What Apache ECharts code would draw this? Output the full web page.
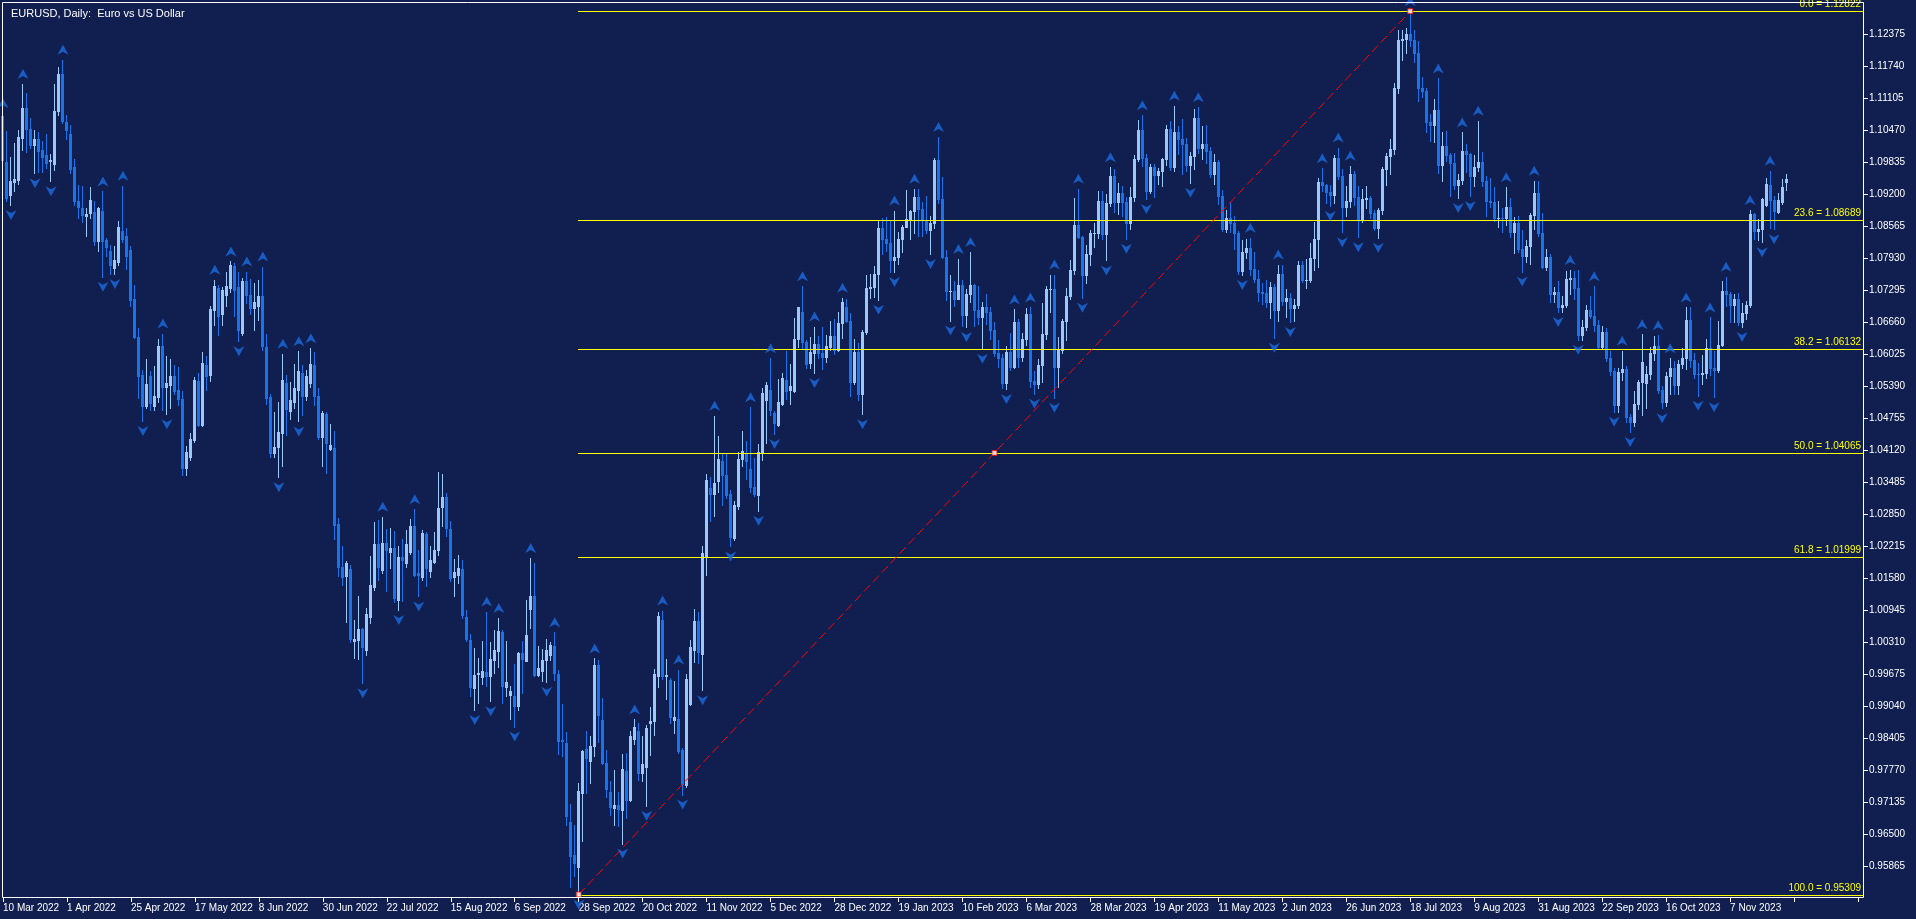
<!DOCTYPE html>
<html>
<head>
<meta charset="utf-8">
<title>EURUSD, Daily</title>
<script src="https://cdn.jsdelivr.net/npm/echarts@6/dist/echarts.min.js"></script>
<style>
  html, body { margin: 0; padding: 0; background: #101f50; }
  #chart { width: 1916px; height: 919px; }
</style>
</head>
<body>
<div id="chart"></div>
<script>
// EURUSD daily bars, first bar = 10 Mar 2022, last = 27 Nov 2023
const opens = [
  1.1074,1.0984,1.0918,1.0943,1.0948,1.1031,1.1091,1.1049,1.1017,1.1029,1.1007,1.0998,1.0985,1.0980,1.1085,1.1158,1.1062,1.1039,1.0973,1.0905,
  1.0893,1.0877,1.0882,1.0885,1.0826,1.0886,1.0829,1.0806,1.0774,1.0785,1.0846,1.0836,1.0809,1.0712,1.0637,1.0561,1.0499,1.0559,1.0499,1.0518,
  1.0619,1.0538,1.0541,1.0558,1.0532,1.0513,1.0376,1.0399,1.0432,1.0549,1.0461,1.0581,1.0561,1.0689,1.0733,1.0682,1.0720,1.0733,1.0778,1.0735,
  1.0644,1.0747,1.0720,1.0694,1.0697,1.0718,1.0616,1.0518,1.0407,1.0419,1.0445,1.0546,1.0489,1.0507,1.0532,1.0565,1.0519,1.0546,1.0581,1.0520,
  1.0439,1.0483,1.0414,1.0416,1.0266,1.0181,1.0162,1.0177,1.0034,1.0036,1.0058,1.0015,1.0082,1.0140,1.0226,1.0175,1.0228,1.0211,1.0218,1.0115,
  1.0201,1.0189,1.0211,1.0262,1.0168,1.0160,1.0246,1.0173,1.0191,1.0213,1.0300,1.0320,1.0255,1.0160,1.0165,1.0176,1.0082,1.0036,0.9940,0.9968,
  0.9963,0.9973,0.9965,0.9996,1.0013,1.0052,0.9943,0.9926,0.9925,0.9905,1.0010,0.9994,1.0097,1.0123,0.9967,0.9975,0.9995,1.0006,1.0023,0.9969,
  0.9838,0.9832,0.9674,0.9610,0.9585,0.9732,0.9819,0.9795,0.9825,0.9986,0.9876,0.9791,0.9735,0.9703,0.9708,0.9699,0.9775,0.9719,0.9839,0.9856,
  0.9771,0.9783,0.9871,0.9874,0.9964,1.0076,0.9964,0.9956,0.9876,0.9878,0.9817,0.9749,0.9908,1.0016,1.0074,1.0007,1.0201,1.0337,1.0326,1.0350,
  1.0391,1.0363,1.0326,1.0238,1.0301,1.0395,1.0406,1.0374,1.0338,1.0323,1.0406,1.0512,1.0531,1.0486,1.0462,1.0503,1.0552,1.0531,1.0529,1.0632,
  1.0685,1.0626,1.0585,1.0605,1.0622,1.0605,1.0597,1.0617,1.0638,1.0610,1.0664,1.0696,1.0668,1.0547,1.0607,1.0523,1.0646,1.0733,1.0735,1.0762,
  1.0852,1.0830,1.0822,1.0788,1.0794,1.0830,1.0855,1.0871,1.0886,1.0914,1.0890,1.0868,1.0848,1.0863,1.0988,1.0910,1.0795,1.0727,1.0727,1.0712,
  1.0739,1.0679,1.0722,1.0740,1.0690,1.0675,1.0696,1.0686,1.0651,1.0605,1.0595,1.0545,1.0607,1.0576,1.0667,1.0597,1.0633,1.0682,1.0549,1.0544,
  1.0580,1.0642,1.0731,1.0731,1.0577,1.0610,1.0668,1.0717,1.0770,1.0858,1.0834,1.0760,1.0800,1.0843,1.0843,1.0905,1.0840,1.0902,1.0955,1.0903,
  1.0921,1.0904,1.0862,1.0913,1.0990,1.1046,1.0991,1.0926,1.0973,1.0957,1.0965,1.0989,1.1049,1.0974,1.1043,1.1029,1.1018,1.0977,1.0996,1.1070,
  1.1012,1.1019,1.1006,1.0960,1.0983,1.0915,1.0850,1.0873,1.0862,1.0842,1.0767,1.0804,1.0813,1.0771,1.0751,1.0726,1.0723,1.0706,1.0736,1.0690,
  1.0762,1.0708,1.0713,1.0693,1.0699,1.0780,1.0750,1.0750,1.0792,1.0830,1.0944,1.0937,1.0924,1.0918,1.0991,1.0956,1.0894,1.0905,1.0960,1.0913,
  1.0868,1.0909,1.0912,1.0882,1.0853,1.0888,1.0969,1.0996,1.1010,1.1129,1.1225,1.1228,1.1238,1.1226,1.1200,1.1130,1.1125,1.1063,1.1056,1.1087,
  1.0977,1.1015,1.0998,1.0982,1.0938,1.0947,1.1006,1.1000,1.0956,1.0973,1.0983,1.0945,1.0906,1.0904,1.0873,1.0873,1.0872,1.0895,1.0845,1.0862,
  1.0810,1.0796,1.0817,1.0878,1.0922,1.0843,1.0775,1.0795,1.0721,1.0726,1.0696,1.0699,1.0751,1.0753,1.0733,1.0641,1.0657,1.0690,1.0678,1.0660,
  1.0617,1.0646,1.0595,1.0569,1.0501,1.0566,1.0573,1.0477,1.0467,1.0503,1.0548,1.0545,1.0563,1.0605,1.0619,1.0531,1.0507,1.0559,1.0575,1.0542,
  1.0582,1.0594,1.0670,1.0591,1.0563,1.0562,1.0564,1.0614,1.0575,1.0570,1.0620,1.0728,1.0721,1.0699,1.0712,1.0667,1.0684,1.0700,1.0880,1.0846,
  1.0851,1.0898,1.0938,1.0908,1.0885,1.0903,1.0943
];
const highs = [
  1.1080,1.1044,1.0994,1.1021,1.1047,1.1138,1.1120,1.1070,1.1047,1.1042,1.1025,1.1039,1.0999,1.1138,1.1171,1.1186,1.1077,1.1056,1.0990,1.0938,
  1.0935,1.0892,1.0933,1.0905,1.0895,1.0925,1.0832,1.0819,1.0816,1.0867,1.0936,1.0853,1.0816,1.0740,1.0654,1.0571,1.0593,1.0569,1.0579,1.0633,
  1.0643,1.0599,1.0593,1.0581,1.0576,1.0530,1.0420,1.0446,1.0557,1.0565,1.0606,1.0598,1.0698,1.0750,1.0740,1.0735,1.0765,1.0786,1.0783,1.0766,
  1.0753,1.0766,1.0752,1.0743,1.0750,1.0776,1.0643,1.0523,1.0487,1.0507,1.0603,1.0561,1.0548,1.0583,1.0608,1.0581,1.0571,1.0614,1.0606,1.0536,
  1.0490,1.0487,1.0464,1.0450,1.0277,1.0222,1.0193,1.0185,1.0076,1.0123,1.0059,1.0099,1.0202,1.0269,1.0274,1.0280,1.0255,1.0257,1.0252,1.0221,
  1.0236,1.0254,1.0275,1.0295,1.0213,1.0254,1.0249,1.0222,1.0249,1.0368,1.0365,1.0327,1.0271,1.0197,1.0205,1.0195,1.0096,1.0048,1.0019,0.9999,
  1.0033,1.0092,1.0031,1.0056,1.0079,1.0056,1.0034,0.9945,0.9988,1.0012,1.0033,1.0115,1.0198,1.0188,1.0024,1.0017,1.0037,1.0031,1.0051,0.9976,
  0.9909,0.9853,0.9711,0.9669,0.9752,0.9818,0.9856,0.9846,0.9999,0.9996,0.9920,0.9818,0.9755,0.9777,0.9734,0.9809,0.9811,0.9856,0.9878,0.9871,
  0.9846,0.9868,0.9902,0.9979,1.0091,1.0094,0.9998,0.9960,0.9955,0.9977,0.9821,0.9968,1.0036,1.0098,1.0091,1.0221,1.0364,1.0359,1.0480,1.0441,
  1.0404,1.0405,1.0333,1.0311,1.0408,1.0450,1.0430,1.0497,1.0397,1.0425,1.0535,1.0547,1.0594,1.0490,1.0553,1.0564,1.0609,1.0582,1.0674,1.0696,
  1.0737,1.0630,1.0637,1.0657,1.0638,1.0656,1.0640,1.0669,1.0671,1.0686,1.0714,1.0711,1.0683,1.0632,1.0624,1.0650,1.0760,1.0762,1.0777,1.0868,
  1.0873,1.0874,1.0868,1.0887,1.0844,1.0858,1.0927,1.0889,1.0930,1.0929,1.0903,1.0915,1.0876,1.0991,1.1033,1.0953,1.0808,1.0760,1.0747,1.0791,
  1.0750,1.0732,1.0805,1.0742,1.0737,1.0706,1.0721,1.0695,1.0667,1.0630,1.0603,1.0618,1.0645,1.0691,1.0671,1.0644,1.0694,1.0695,1.0568,1.0593,
  1.0703,1.0737,1.0759,1.0760,1.0637,1.0671,1.0733,1.0788,1.0912,1.0930,1.0837,1.0818,1.0849,1.0863,1.0925,1.0926,1.0919,1.0973,1.0970,1.0941,
  1.0936,1.0914,1.0934,1.0998,1.1066,1.1076,1.0999,1.0980,1.0980,1.0971,1.0992,1.1057,1.1064,1.1095,1.1055,1.1068,1.1030,1.1003,1.1089,1.1092,
  1.1054,1.1057,1.1014,1.1000,1.0988,1.0927,1.0888,1.0904,1.0877,1.0846,1.0829,1.0830,1.0833,1.0805,1.0769,1.0744,1.0749,1.0746,1.0741,1.0780,
  1.0779,1.0731,1.0724,1.0712,1.0787,1.0787,1.0790,1.0823,1.0865,1.0951,1.0971,1.0940,1.0937,1.0998,1.1012,1.0969,1.0936,1.0976,1.0965,1.0935,
  1.0929,1.0935,1.0915,1.0888,1.0893,1.0974,1.1001,1.1029,1.1140,1.1245,1.1245,1.1249,1.12822,1.1244,1.1223,1.1152,1.1130,1.1079,1.1109,1.1149,
  1.1043,1.1045,1.1002,1.1001,1.0960,1.1042,1.1019,1.1002,1.0998,1.1065,1.1004,1.0955,1.0951,1.0934,1.0906,1.0892,1.0933,1.0912,1.0875,1.0877,
  1.0849,1.0829,1.0882,1.0946,1.0945,1.0882,1.0810,1.0800,1.0735,1.0747,1.0718,1.0768,1.0769,1.0767,1.0769,1.0670,1.0699,1.0717,1.0737,1.0670,
  1.0659,1.0654,1.0609,1.0574,1.0575,1.0609,1.0579,1.0484,1.0530,1.0551,1.0642,1.0578,1.0617,1.0638,1.0640,1.0539,1.0567,1.0594,1.0589,1.0591,
  1.0615,1.0695,1.0695,1.0605,1.0585,1.0601,1.0633,1.0675,1.0608,1.0669,1.0748,1.0756,1.0725,1.0721,1.0724,1.0703,1.0708,1.0888,1.0882,1.0870,
  1.0912,1.0951,1.0966,1.0915,1.0922,1.0950,1.0960
];
const lows = [
  1.0985,1.0905,1.0898,1.0925,1.0940,1.1007,1.1003,1.1011,1.0961,1.0964,1.0964,1.0971,1.0945,1.0968,1.1077,1.1060,1.1029,1.0961,1.0898,1.0873,
  1.0865,1.0836,1.0873,1.0819,1.0807,1.0756,1.0796,1.0761,1.0761,1.0779,1.0824,1.0771,1.0697,1.0634,1.0515,1.0470,1.0495,1.0492,1.0492,1.0508,
  1.0492,1.0483,1.0495,1.0524,1.0502,1.0363,1.0363,1.0393,1.0428,1.0459,1.0459,1.0532,1.0550,1.0661,1.0641,1.0661,1.0697,1.0725,1.0678,1.0628,
  1.0641,1.0704,1.0682,1.0651,1.0670,1.0610,1.0504,1.0399,1.0398,1.0358,1.0381,1.0442,1.0474,1.0495,1.0469,1.0482,1.0512,1.0538,1.0502,1.0434,
  1.0381,1.0366,1.0413,1.0236,1.0162,1.0144,1.0072,1.0032,0.9999,0.9997,0.9950,1.0006,1.0070,1.0135,1.0155,1.0168,1.0132,1.0178,1.0110,1.0095,
  1.0112,1.0181,1.0206,1.0162,1.0122,1.0154,1.0142,1.0160,1.0188,1.0205,1.0261,1.0241,1.0152,1.0122,1.0148,1.0079,1.0033,0.9925,0.9897,0.9910,
  0.9949,0.9945,0.9914,0.9971,0.9983,0.9910,0.9925,0.9879,0.9864,0.9897,0.9930,0.9993,1.0060,0.9965,0.9965,0.9955,0.9953,0.9996,0.9957,0.9810,
  0.9806,0.9669,0.9546,0.9568,0.95309,0.9637,0.9733,0.9753,0.9805,0.9834,0.9789,0.9725,0.9688,0.9669,0.9667,0.9632,0.9682,0.9716,0.9830,0.9757,
  0.9755,0.9707,0.9807,0.9848,0.9943,0.9958,0.9919,0.9871,0.9852,0.9811,0.9729,0.9744,0.9906,0.9992,0.9990,0.9936,1.0164,1.0271,1.0281,1.0329,
  1.0303,1.0317,1.0221,1.0234,1.0296,1.0380,1.0354,1.0329,1.0322,1.0292,1.0393,1.0426,1.0482,1.0444,1.0460,1.0501,1.0514,1.0503,1.0527,1.0617,
  1.0613,1.0575,1.0575,1.0565,1.0594,1.0573,1.0586,1.0611,1.0603,1.0608,1.0634,1.0666,1.0519,1.0543,1.0512,1.0483,1.0642,1.0714,1.0716,1.0710,
  1.0800,1.0806,1.0766,1.0765,1.0781,1.0804,1.0854,1.0830,1.0842,1.0836,1.0836,1.0842,1.0801,1.0852,1.0902,1.0792,1.0709,1.0669,1.0697,1.0711,
  1.0659,1.0656,1.0705,1.0659,1.0662,1.0613,1.0662,1.0632,1.0599,1.0577,1.0536,1.0533,1.0570,1.0575,1.0577,1.0589,1.0621,1.0537,1.0524,1.0536,
  1.0548,1.0633,1.0685,1.0516,1.0537,1.0605,1.0631,1.0712,1.0762,1.0832,1.0714,1.0744,1.0780,1.0814,1.0832,1.0830,1.0788,1.0897,1.0885,1.0880,
  1.0877,1.0831,1.0850,1.0905,1.0985,1.0975,1.0910,1.0922,1.0913,1.0939,1.0936,1.0977,1.0967,1.0965,1.1000,1.0960,1.0965,1.0942,1.0969,1.1002,
  1.0990,1.0982,1.0953,1.0940,1.0900,1.0846,1.0845,1.0844,1.0810,1.0762,1.0759,1.0792,1.0760,1.0746,1.0708,1.0702,1.0695,1.0673,1.0635,1.0668,
  1.0700,1.0676,1.0666,1.0669,1.0694,1.0745,1.0733,1.0745,1.0770,1.0776,1.0925,1.0901,1.0896,1.0902,1.0949,1.0844,1.0877,1.0895,1.0898,1.0834,
  1.0864,1.0892,1.0872,1.0848,1.0833,1.0880,1.0938,1.0960,1.1000,1.1120,1.1186,1.1199,1.1213,1.1181,1.1104,1.1113,1.1043,1.1025,1.1023,1.0961,
  1.0945,1.0986,1.0915,1.0929,1.0912,1.0939,1.0963,1.0916,1.0936,1.0966,1.0935,1.0877,1.0894,1.0866,1.0854,1.0844,1.0859,1.0834,1.0802,1.0804,
  1.0766,1.0785,1.0781,1.0850,1.0837,1.0773,1.0769,1.0705,1.0705,1.0686,1.0686,1.0695,1.0721,1.0712,1.0631,1.0631,1.0650,1.0673,1.0649,1.0615,
  1.0615,1.0588,1.0560,1.0488,1.0488,1.0552,1.0468,1.0448,1.0460,1.0494,1.0482,1.0495,1.0553,1.0590,1.0526,1.0495,1.0500,1.0524,1.0524,1.0524,
  1.0575,1.0572,1.0576,1.0556,1.0520,1.0543,1.0555,1.0561,1.0517,1.0567,1.0618,1.0697,1.0666,1.0667,1.0660,1.0656,1.0672,1.0695,1.0830,1.0829,
  1.0824,1.0896,1.0852,1.0850,1.0882,1.0900,1.0927
];
const closes = [
  1.0988,1.0912,1.0945,1.0950,1.1032,1.1091,1.1049,1.1017,1.1029,1.1005,1.0994,1.0981,1.0987,1.1085,1.1158,1.1065,1.1047,1.0970,1.0905,1.0895,
  1.0879,1.0880,1.0908,1.0826,1.0893,1.0827,1.0814,1.0779,1.0789,1.0854,1.0831,1.0796,1.0710,1.0637,1.0558,1.0499,1.0543,1.0506,1.0520,1.0619,
  1.0538,1.0546,1.0559,1.0530,1.0513,1.0376,1.0409,1.0434,1.0551,1.0461,1.0585,1.0558,1.0692,1.0737,1.0677,1.0730,1.0737,1.0779,1.0730,1.0651,
  1.0747,1.0720,1.0694,1.0705,1.0717,1.0618,1.0516,1.0407,1.0419,1.0448,1.0552,1.0494,1.0512,1.0536,1.0569,1.0520,1.0558,1.0583,1.0520,1.0439,
  1.0485,1.0427,1.0423,1.0263,1.0181,1.0160,1.0188,1.0038,1.0038,1.0058,1.0021,1.0087,1.0145,1.0226,1.0181,1.0228,1.0214,1.0218,1.0118,1.0200,
  1.0195,1.0226,1.0262,1.0165,1.0165,1.0247,1.0178,1.0195,1.0214,1.0297,1.0320,1.0257,1.0158,1.0170,1.0178,1.0085,1.0037,0.9942,0.9967,0.9971,
  0.9974,0.9965,0.9998,1.0016,1.0054,0.9945,0.9953,0.9934,0.9905,1.0010,0.9998,1.0046,1.0123,0.9967,0.9980,0.9996,1.0015,1.0026,0.9970,0.9836,
  0.9835,0.9687,0.9608,0.9593,0.9736,0.9815,0.9801,0.9826,0.9986,0.9886,0.9791,0.9740,0.9704,0.9708,0.9701,0.9779,0.9719,0.9846,0.9863,0.9772,
  0.9789,0.9861,0.9875,0.9968,1.0083,0.9964,0.9967,0.9882,0.9882,0.9815,0.9751,0.9958,1.0021,1.0074,1.0012,1.0209,1.0353,1.0326,1.0347,1.0395,
  1.0363,1.0323,1.0240,1.0303,1.0395,1.0410,1.0391,1.0338,1.0326,1.0408,1.0525,1.0541,1.0492,1.0465,1.0508,1.0555,1.0529,1.0540,1.0633,1.0695,
  1.0627,1.0583,1.0606,1.0623,1.0605,1.0597,1.0618,1.0638,1.0610,1.0664,1.0705,1.0668,1.0547,1.0607,1.0523,1.0646,1.0733,1.0735,1.0762,1.0852,
  1.0830,1.0822,1.0788,1.0794,1.0830,1.0855,1.0871,1.0886,1.0914,1.0890,1.0868,1.0848,1.0863,1.0988,1.0910,1.0795,1.0727,1.0727,1.0712,1.0739,
  1.0679,1.0722,1.0740,1.0690,1.0675,1.0696,1.0686,1.0651,1.0605,1.0595,1.0545,1.0607,1.0576,1.0667,1.0597,1.0633,1.0682,1.0549,1.0544,1.0580,
  1.0642,1.0731,1.0731,1.0577,1.0610,1.0668,1.0717,1.0770,1.0858,1.0834,1.0760,1.0800,1.0843,1.0843,1.0905,1.0840,1.0902,1.0955,1.0903,1.0921,
  1.0904,1.0862,1.0913,1.0990,1.1046,1.0991,1.0926,1.0973,1.0957,1.0965,1.0989,1.1049,1.0974,1.1043,1.1029,1.1018,1.0977,1.0996,1.1070,1.1012,
  1.1019,1.1006,1.0960,1.0983,1.0915,1.0850,1.0873,1.0862,1.0842,1.0767,1.0804,1.0813,1.0771,1.0751,1.0726,1.0723,1.0706,1.0736,1.0690,1.0762,
  1.0708,1.0713,1.0693,1.0699,1.0780,1.0750,1.0750,1.0792,1.0830,1.0944,1.0937,1.0924,1.0918,1.0991,1.0956,1.0894,1.0905,1.0960,1.0913,1.0868,
  1.0909,1.0912,1.0882,1.0853,1.0888,1.0969,1.0996,1.1010,1.1129,1.1225,1.1228,1.1238,1.1226,1.1200,1.1130,1.1125,1.1063,1.1056,1.1087,1.0977,
  1.1015,1.0998,1.0982,1.0938,1.0947,1.1006,1.1000,1.0956,1.0973,1.0983,1.0945,1.0906,1.0904,1.0873,1.0873,1.0872,1.0895,1.0845,1.0862,1.0810,
  1.0796,1.0817,1.0878,1.0922,1.0843,1.0775,1.0795,1.0721,1.0726,1.0696,1.0699,1.0751,1.0753,1.0733,1.0641,1.0657,1.0690,1.0678,1.0660,1.0617,
  1.0646,1.0595,1.0569,1.0501,1.0566,1.0573,1.0477,1.0467,1.0503,1.0548,1.0587,1.0563,1.0605,1.0619,1.0531,1.0507,1.0559,1.0575,1.0542,1.0582,
  1.0594,1.0670,1.0591,1.0563,1.0562,1.0564,1.0614,1.0575,1.0570,1.0620,1.0728,1.0721,1.0699,1.0712,1.0667,1.0684,1.0700,1.0880,1.0846,1.0851,
  1.0910,1.0940,1.0908,1.0887,1.0907,1.0933,1.0950
];

const fractalUp = [0,5,15,25,30,40,53,57,61,65,70,74,77,95,103,121,124,132,138,148,158,165,169,178,187,192];
const fractalDown = [2,8,12,25,28,35,41,59,69,74,90,99,104,118,122,128,136,144,155,161,170,175,182,189,193];
const FRACTAL_READ_UNTIL = 199;

// fibonacci retracement
const fibLevels = [0.0, 23.6, 38.2, 50.0, 61.8, 100.0];
const fibPrices = [1.12822, 1.08689, 1.06132, 1.04065, 1.01999, 0.95309];
const fibFrom = 144;   // bar of the low
const fibTo = 352;     // bar of the high

const yTicks = [0.95865,0.96500,0.97135,0.97770,0.98405,0.99040,0.99675,1.00310,1.00945,1.01580,1.02215,1.02850,1.03485,
  1.04120,1.04755,1.05390,1.06025,1.06660,1.07295,1.07930,1.08565,1.09200,1.09835,1.10470,1.11105,1.11740,1.12375];
const xTickLabels = ['10 Mar 2022','1 Apr 2022','25 Apr 2022','17 May 2022','8 Jun 2022','30 Jun 2022','22 Jul 2022',
  '15 Aug 2022','6 Sep 2022','28 Sep 2022','20 Oct 2022','11 Nov 2022','5 Dec 2022','28 Dec 2022','19 Jan 2023',
  '10 Feb 2023','6 Mar 2023','28 Mar 2023','19 Apr 2023','11 May 2023','2 Jun 2023','26 Jun 2023','18 Jul 2023',
  '9 Aug 2023','31 Aug 2023','22 Sep 2023','16 Oct 2023','7 Nov 2023'];
const LABEL_STEP = 16;
const SLOTS = 466;

const BG = '#101f50';
const BULL = '#9cc8f8';
const BEAR = '#1a73e8';
const ARROW = '#1c6be0';
const FIB = '#ffff00';
const FONT = 'Liberation Sans';

const slots = [];
for (let i = 0; i < SLOTS; i++) slots.push(String(i));

// fractals past the read range come from the bars themselves (5-bar rule)
const upIdx = fractalUp.slice(), downIdx = fractalDown.slice();
for (let i = FRACTAL_READ_UNTIL + 1; i < highs.length - 2; i++) {
  const h = highs[i], l = lows[i];
  if (h > highs[i - 1] && h > highs[i - 2] && h >= highs[i + 1] && h >= highs[i + 2]) upIdx.push(i);
  if (l < lows[i - 1] && l < lows[i - 2] && l <= lows[i + 1] && l <= lows[i + 2]) downIdx.push(i);
}

const candleData = opens.map((o, i) => [i, o, closes[i], lows[i], highs[i]]);

function renderCandle(params, api) {
  const i = api.value(0);
  const o = api.value(1), c = api.value(2);
  const yO = api.coord([i, o])[1];
  const yC = api.coord([i, c])[1];
  const yL = Math.round(api.coord([i, api.value(3)])[1]);
  const yH = Math.round(api.coord([i, api.value(4)])[1]);
  const cx = Math.floor(api.coord([i, o])[0]);
  const col = c >= o ? BULL : BEAR;
  const top = Math.round(Math.min(yO, yC));
  const bot = Math.round(Math.max(yO, yC));
  return {
    type: 'group',
    children: [
      { type: 'rect', shape: { x: cx, y: yH, width: 1, height: yL - yH + 1 }, style: { fill: col } },
      { type: 'rect', shape: { x: cx - 1, y: top, width: 3, height: bot - top + 1 }, style: { fill: col } }
    ]
  };
}

function renderFib(params, api) {
  const p = api.value(1);
  const pt = api.coord([api.value(0), p]);
  const cs = params.coordSys;
  const x0 = Math.floor(pt[0]);
  const x1 = cs.x + cs.width - 1;
  const y = Math.round(pt[1]);
  const k = params.dataIndex;
  return {
    type: 'group',
    children: [
      { type: 'rect', shape: { x: x0, y: y, width: x1 - x0, height: 1 }, style: { fill: FIB } },
      {
        type: 'text', x: x1 - 2, y: y - 2,
        style: {
          text: fibLevels[k].toFixed(1) + ' = ' + p.toFixed(5),
          fill: FIB, align: 'right', verticalAlign: 'bottom',
          font: '10px "' + FONT + '"'
        }
      }
    ]
  };
}

const chart = echarts.init(document.getElementById('chart'));
chart.setOption({
  backgroundColor: BG,
  animation: false,
  textStyle: { fontFamily: FONT },
  title: {
    text: 'EURUSD, Daily:  Euro vs US Dollar',
    left: 6, top: 3,
    textStyle: { color: '#ffffff', fontSize: 11, fontWeight: 'normal', fontFamily: FONT }
  },
  grid: { left: 0, top: 2, width: 1864, height: 895 },
  xAxis: {
    type: 'category',
    data: slots,
    boundaryGap: true,
    axisLine: { show: false },
    axisTick: { show: true, interval: LABEL_STEP - 1, alignWithLabel: true, length: 5, lineStyle: { color: '#ffffff' } },
    axisLabel: {
      interval: LABEL_STEP - 1,
      align: 'left',
      margin: 6,
      color: '#ffffff',
      fontSize: 10,
      fontFamily: FONT,
      formatter: (v, idx) => xTickLabels[idx / LABEL_STEP] || ''
    },
    splitLine: { show: false }
  },
  yAxis: {
    type: 'value',
    position: 'right',
    min: 0.95260,
    max: 1.13005,
    axisLine: { show: false },
    axisTick: { show: true, customValues: yTicks, length: 4, lineStyle: { color: '#ffffff' } },
    axisLabel: {
      customValues: yTicks,
      margin: 5,
      color: '#ffffff',
      fontSize: 10,
      fontFamily: FONT,
      formatter: v => v.toFixed(5)
    },
    splitLine: { show: false }
  },
  graphic: [{
    type: 'rect',
    shape: { x: 2.5, y: 2.5, width: 1861, height: 895 },
    style: { fill: null, stroke: '#ffffff', lineWidth: 1 },
    silent: true,
    z: 100
  }],
  series: [
    {
      type: 'custom',
      data: candleData,
      encode: { x: 0, y: [1, 2, 3, 4] },
      renderItem: renderCandle,
      silent: true,
      z: 2
    },
    {
      type: 'custom',
      data: fibPrices.map(p => [fibFrom, p]),
      encode: { x: 0, y: 1 },
      renderItem: renderFib,
      silent: true,
      z: 3
    },
    {
      type: 'line',
      data: [[fibFrom, fibPrices[5]], [fibTo, fibPrices[0]]],
      symbol: 'none',
      silent: true,
      lineStyle: { color: '#ff0000', width: 1, type: [9, 4] },
      z: 5
    },
    {
      type: 'scatter',
      data: upIdx.map(i => [i, highs[i]]),
      symbol: 'path://M5,0 L10,10 L5,7 L0,10 Z',
      symbolSize: [11, 10],
      symbolOffset: [0, -10],
      silent: true,
      itemStyle: { color: ARROW },
      z: 6
    },
    {
      type: 'scatter',
      data: downIdx.map(i => [i, lows[i]]),
      symbol: 'path://M0,0 L5,3 L10,0 L5,10 Z',
      symbolSize: [11, 10],
      symbolOffset: [0, 10],
      silent: true,
      itemStyle: { color: ARROW },
      z: 6
    },
    {
      type: 'scatter',
      data: [[fibFrom, fibPrices[5]], [Math.round((fibFrom + fibTo) / 2), fibPrices[3]], [fibTo, fibPrices[0]]],
      symbol: 'rect',
      symbolSize: 5,
      silent: true,
      itemStyle: { color: '#ffffff', borderColor: '#ff0000', borderWidth: 1 },
      z: 7
    }
  ]
});
</script>
</body>
</html>
